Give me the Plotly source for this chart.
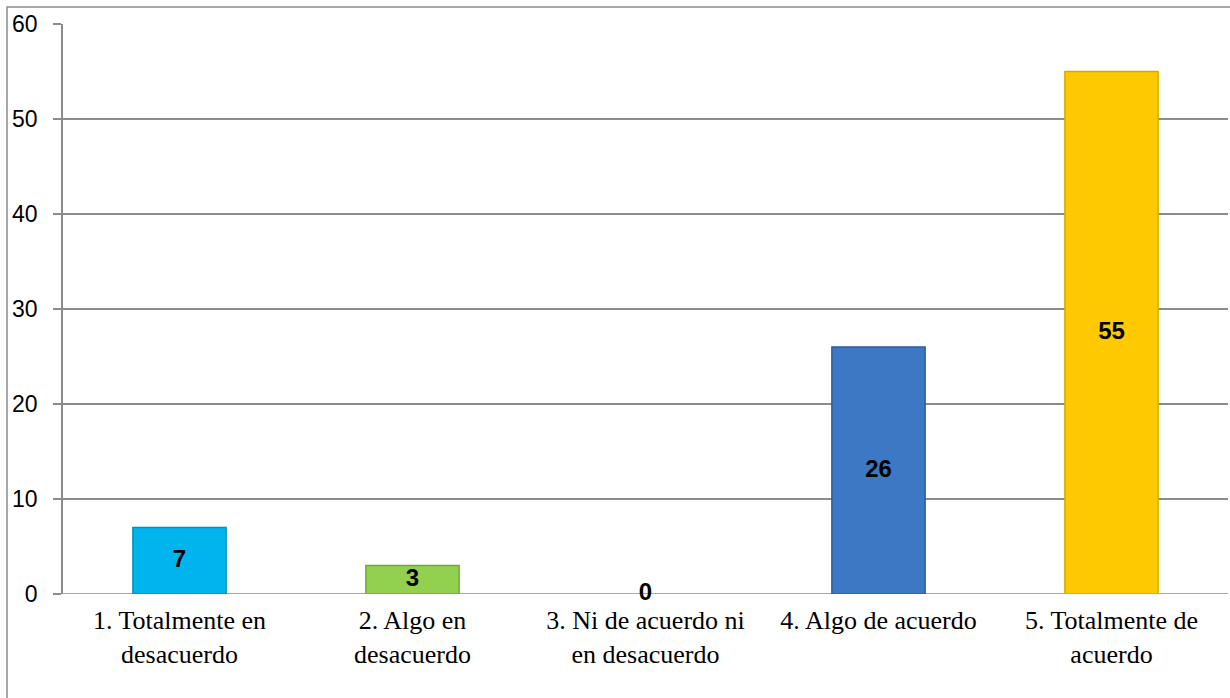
import plotly.graph_objects as go

categories = ["1. Totalmente en<br>desacuerdo", "2. Algo en<br>desacuerdo",
              "3. Ni de acuerdo ni<br>en desacuerdo", "4. Algo de acuerdo",
              "5. Totalmente de<br>acuerdo"]
values = [7, 3, 0, 26, 55]
bar_colors = ["#00B4EE", "#92D050", "rgba(0,0,0,0)", "#3C78C3", "#FFC900"]
edge_colors = ["#0090C0", "#70A838", "rgba(0,0,0,0)", "#2B5C98", "#D9A800"]
y_ticks = [0, 10, 20, 30, 40, 50, 60]

fig = go.Figure()
fig.add_trace(go.Bar(
    x=categories, y=values, width=0.4,
    marker=dict(color=bar_colors, line=dict(color=edge_colors, width=1.5)),
    hoverinfo="skip", showlegend=False,
))
fig.add_trace(go.Scatter(
    x=categories, y=[v / 2 for v in values], mode="text",
    text=[str(v) for v in values],
    textfont=dict(family="Liberation Sans, Arial, sans-serif", size=24, color="black", weight="bold"),
    hoverinfo="skip", showlegend=False, cliponaxis=False,
))

fig.update_layout(
    width=1230, height=698,
    margin=dict(l=63, r=2, t=24, b=104),
    paper_bgcolor="white", plot_bgcolor="white",
    bargap=0.6,
    xaxis=dict(
        showgrid=False, zeroline=False, showline=False, ticks="",
        ticklabelstandoff=8,
        tickfont=dict(family="Liberation Serif, Times New Roman, serif", size=26, color="black"),
        fixedrange=True,
    ),
    yaxis=dict(
        range=[0, 60], tickvals=y_ticks, ticktext=[str(t) for t in y_ticks],
        showgrid=True, gridcolor="#8C8C8C", gridwidth=1.5,
        zeroline=False,
        showline=True, linecolor="#8C8C8C", linewidth=1.5,
        ticks="outside", ticklen=8, tickcolor="#8C8C8C", tickwidth=1.5,
        ticklabelstandoff=11,
        tickfont=dict(family="Liberation Sans, Arial, sans-serif", size=23, color="black"),
        fixedrange=True,
    ),
    shapes=[
        dict(type="rect", xref="paper", yref="paper",
             x0=(7 - 63) / 1165, x1=1.05, y0=-0.3, y1=1 + (24 - 7) / 570,
             line=dict(color="#8C8C8C", width=1.5), fillcolor="rgba(0,0,0,0)", layer="below"),
        dict(type="line", xref="paper", yref="y",
             x0=-8 / 1165, x1=1, y0=0, y1=0,
             line=dict(color="#8C8C8C", width=1.5), layer="below"),
    ],
)

fig.write_html(
    "out.html",
    config={"displayModeBar": False},
    post_script="document.body.style.margin='0';document.body.style.overflow='hidden';",
)
